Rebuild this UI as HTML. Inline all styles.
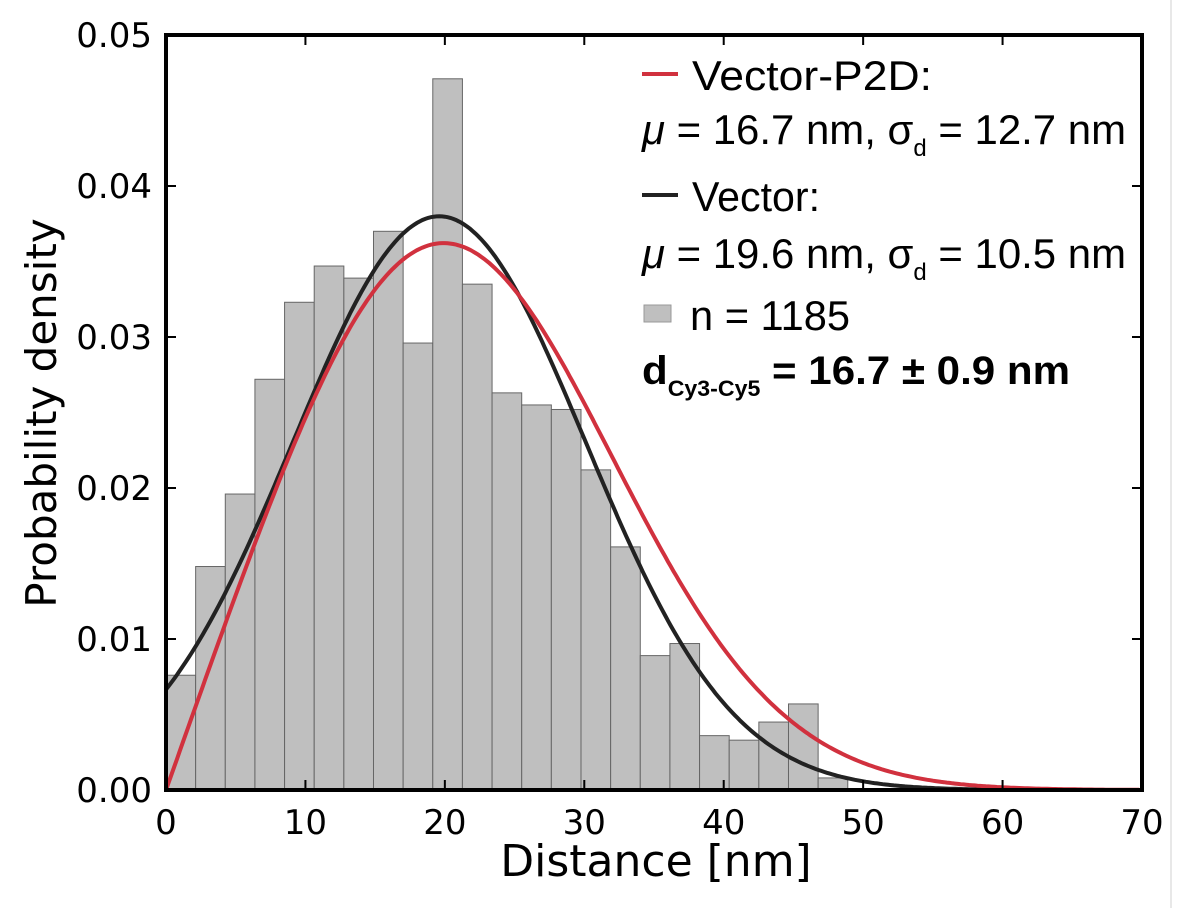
<!DOCTYPE html>
<html><head><meta charset="utf-8"><style>
html,body{margin:0;padding:0;background:#fff}
svg{display:block;font-family:"Liberation Sans",sans-serif}
</style></head><body>
<svg id="chart" width="1182" height="908">
<line x1="1171" y1="0" x2="1171" y2="908" stroke="#e8e8e8" stroke-width="2"/>
<g id="bars"></g>
<g id="curves"></g>
<rect x="166" y="35" width="976" height="755" fill="none" stroke="#000" stroke-width="4"/>
<g id="ticks"></g>
<text x="656" y="876" font-size="44" text-anchor="middle" font-family="DejaVu Sans, sans-serif">Distance [nm]</text>
<text transform="translate(56,413) rotate(-90)" font-size="42" text-anchor="middle" font-family="DejaVu Sans, sans-serif">Probability density</text>
<g font-size="42">
<line x1="642" y1="74" x2="678" y2="74" stroke="#d1313e" stroke-width="4"/>
<text x="692" y="90" textLength="240" lengthAdjust="spacingAndGlyphs">Vector-P2D:</text>
<text x="642" y="144" textLength="484" lengthAdjust="spacingAndGlyphs"><tspan font-style="italic">μ</tspan> = 16.7 nm, σ<tspan font-size="24" dy="12">d</tspan><tspan dy="-12"> = 12.7 nm</tspan></text>
<line x1="642" y1="195" x2="678" y2="195" stroke="#222" stroke-width="4"/>
<text x="692" y="211" textLength="128" lengthAdjust="spacingAndGlyphs">Vector:</text>
<text x="642" y="268" textLength="484" lengthAdjust="spacingAndGlyphs"><tspan font-style="italic">μ</tspan> = 19.6 nm, σ<tspan font-size="24" dy="12">d</tspan><tspan dy="-12"> = 10.5 nm</tspan></text>
<rect x="644" y="305" width="27" height="17" fill="#bfbfbf" stroke="#999"/>
<text x="690" y="330" textLength="160" lengthAdjust="spacingAndGlyphs">n = 1185</text>
<text x="642" y="384" font-weight="bold" font-size="40" textLength="428" lengthAdjust="spacingAndGlyphs">d<tspan font-size="22" dy="12">Cy3-Cy5</tspan><tspan dy="-12"> = 16.7 ± 0.9 nm</tspan></text>
</g>
</svg>
<script>
const binWidth = 2.126;
const binHeights = [0.0076,0.0148,0.0196,0.0272,0.0323,0.0347,0.0339,0.0370,0.0296,0.0471,0.0335,0.0263,0.0255,0.0252,0.0212,0.0161,0.0089,0.0097,0.0036,0.0033,0.0045,0.0057,0.0008];
const xTicks = [0,10,20,30,40,50,60,70];
const yTicks = [0,0.01,0.02,0.03,0.04,0.05];
const yTickLabels = ["0.00","0.01","0.02","0.03","0.04","0.05"];
const p2dParams = [16.7,12.7];
const vectorParams = [19.6,10.5];
const NS="http://www.w3.org/2000/svg";
const X=v=>166+v*(976/70);
const Y=v=>790-v*(755/0.05);
const bars=document.getElementById('bars');
binHeights.forEach((h,i)=>{
  const r=document.createElementNS(NS,'rect');
  r.setAttribute('x',X(i*binWidth));r.setAttribute('width',X(binWidth)-X(0));
  r.setAttribute('y',Y(h));r.setAttribute('height',Y(0)-Y(h));
  r.setAttribute('fill','#bfbfbf');r.setAttribute('stroke','#666');r.setAttribute('stroke-width','1');
  
  
  bars.appendChild(r);
});
function I0(x){let s=1,t=1;for(let k=1;k<60;k++){t*=(x/2)*(x/2)/(k*k);s+=t;}return s;}
function p2d(r){const m=p2dParams[0],s=p2dParams[1];const a=r*m/(s*s);
  return r/(s*s)*Math.exp(-(m*m+r*r)/(2*s*s))*I0(a);}
function gauss(r){const m=vectorParams[0],s=vectorParams[1];return Math.exp(-(r-m)*(r-m)/(2*s*s))/(s*Math.sqrt(2*Math.PI));}
const curves=document.getElementById('curves');
[[gauss,'#222','vector-fit-curve'],[p2d,'#d1313e','p2d-fit-curve']].forEach(([f,c,n])=>{
  let d='';for(let r=0;r<=70;r+=0.2){d+=(r?'L':'M')+X(r).toFixed(1)+','+Y(f(r)).toFixed(1);}
  const p=document.createElementNS(NS,'path');
  p.setAttribute('d',d);p.setAttribute('fill','none');p.setAttribute('stroke',c);p.setAttribute('stroke-width','4');
  
  
  curves.appendChild(p);
});
const ticks=document.getElementById('ticks');
xTicks.forEach(v=>{
  const l=document.createElementNS(NS,'path');
  l.setAttribute('d',`M${X(v)},790v-10M${X(v)},35v10`);l.setAttribute('stroke','#000');l.setAttribute('stroke-width','2');
  
  
  ticks.appendChild(l);
  const t=document.createElementNS(NS,'text');
  t.setAttribute('x',X(v));t.setAttribute('y',834);t.setAttribute('font-size','34');t.setAttribute('text-anchor','middle');
  t.setAttribute('font-family','DejaVu Sans, sans-serif');t.textContent=v;
  
  
  ticks.appendChild(t);
});
yTicks.forEach((v,i)=>{
  const l=document.createElementNS(NS,'path');
  l.setAttribute('d',`M166,${Y(v)}h10M1142,${Y(v)}h-10`);l.setAttribute('stroke','#000');l.setAttribute('stroke-width','2');
  
  
  ticks.appendChild(l);
  const t=document.createElementNS(NS,'text');
  t.setAttribute('x',152);t.setAttribute('y',Y(v)+12);t.setAttribute('font-size','34');t.setAttribute('text-anchor','end');
  t.setAttribute('font-family','DejaVu Sans, sans-serif');t.textContent=yTickLabels[i];
  
  
  ticks.appendChild(t);
});
</script>
</body></html>
